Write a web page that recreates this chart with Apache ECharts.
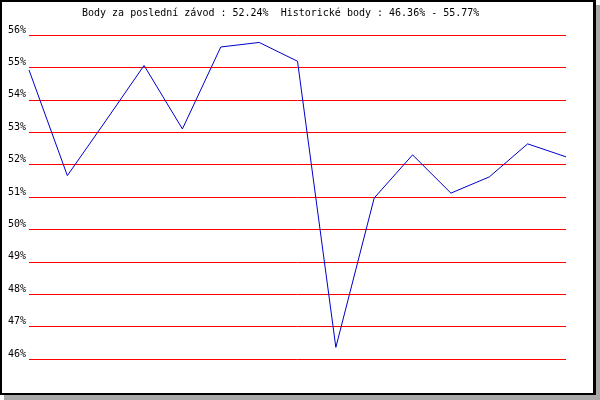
<!DOCTYPE html>
<html>
<head>
<meta charset="utf-8">
<script src="https://cdn.jsdelivr.net/npm/echarts@6/dist/echarts.min.js"></script>
<style>
html, body { margin: 0; padding: 0; background: #fff; }
#chart {
  position: absolute; left: 0; top: 0;
  box-sizing: border-box;
  width: 596px; height: 395px;
  border-style: solid; border-color: #000;
  border-width: 2px 3px 2px 2px;
  box-shadow: 4px 5px 0 #a9a9a9;
  background: #fff;
}
</style>
</head>
<body>
<div id="chart"></div>
<script>
const races = ['1','2','3','4','5','6','7','8','9','10','11','12','13','14','15'];
const points = [54.92, 51.66, 53.35, 55.06, 53.10, 55.63, 55.77, 55.19, 46.36, 50.97, 52.30, 51.12, 51.62, 52.64, 52.24];
const titleText = 'Body za poslední závod : 52.24%  Historické body : 46.36% - 55.77%';
const yMin = 46, yMax = 56, yStep = 1;

const chart = echarts.init(document.getElementById('chart'), null, { renderer: 'canvas' });
chart.setOption({
  animation: false,
  backgroundColor: '#fff',
  title: {
    text: titleText,
    left: 80, top: 6, padding: 0,
    textStyle: { fontFamily: 'DejaVu Sans Mono', fontSize: 10, fontWeight: 'normal', color: '#000' }
  },
  grid: { left: 27, right: 27, top: 33, bottom: 34, containLabel: false },
  xAxis: {
    type: 'category', data: races, boundaryGap: false, show: false
  },
  yAxis: {
    type: 'value', min: yMin, max: yMax, interval: yStep,
    axisLine: { show: false }, axisTick: { show: false },
    axisLabel: {
      formatter: v => v + '%', margin: 3, verticalAlign: 'bottom',
      fontFamily: 'DejaVu Sans Mono', fontSize: 10, color: '#000'
    },
    splitLine: { show: true, lineStyle: { color: '#ff0000', width: 1 } }
  },
  series: [{
    type: 'line', data: points, symbol: 'none',
    lineStyle: { color: '#0000cc', width: 1 }
  }]
});
</script>
</body>
</html>
